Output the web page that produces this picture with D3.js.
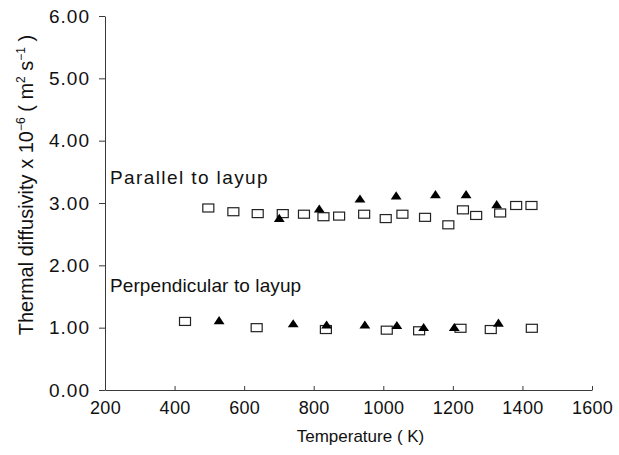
<!DOCTYPE html>
<html>
<head>
<meta charset="utf-8">
<script src="https://cdn.jsdelivr.net/npm/d3@7"></script>
<style>
  html, body { margin: 0; padding: 0; background: #fff; }
  svg { display: block; font-family: "Liberation Sans", Arial, Helvetica, sans-serif; }
</style>
</head>
<body>
<svg id="chart" width="619" height="455"></svg>
<script>
// Thermal diffusivity (x10^-6 m^2/s) versus temperature (K), two orientations,
// each measured as two runs (open squares and filled triangles).
const parallelSquaresT = [497, 569, 639, 711, 772, 828, 873, 945, 1007, 1055, 1120, 1187, 1229, 1267, 1336, 1382, 1426];
const parallelSquaresV = [2.92, 2.86, 2.83, 2.83, 2.82, 2.78, 2.79, 2.82, 2.75, 2.82, 2.77, 2.65, 2.89, 2.80, 2.84, 2.96, 2.96];

const parallelTrianglesT = [701, 816, 933, 1037, 1150, 1238, 1326];
const parallelTrianglesV = [2.74, 2.89, 3.05, 3.10, 3.12, 3.12, 2.96];

const perpSquaresT = [430, 636, 835, 1010, 1103, 1222, 1309, 1427];
const perpSquaresV = [1.10, 1.00, 0.97, 0.96, 0.95, 0.99, 0.97, 0.99];

const perpTrianglesT = [528, 741, 837, 947, 1039, 1116, 1204, 1331];
const perpTrianglesV = [1.10, 1.05, 1.03, 1.03, 1.02, 0.99, 0.99, 1.06];

const xTicks = [200, 400, 600, 800, 1000, 1200, 1400, 1600];
const yTicks = [0, 1, 2, 3, 4, 5, 6];

const seriesLabels = [
  { text: "Parallel to layup", value: 3.30 },
  { text: "Perpendicular to layup", value: 1.58 }
];

const svg = d3.select("#chart");

const x = d3.scaleLinear().domain([200, 1600]).range([105, 592]);
const y = d3.scaleLinear().domain([0, 6]).range([390, 16]);

const axisColor = "#3a3a3a";

// X axis: ticks pointing up into the plot
const gx = svg.append("g")
  .attr("transform", `translate(0,${y(0)})`)
  .call(d3.axisBottom(x).tickValues(xTicks).tickSizeInner(-4).tickSizeOuter(0).tickPadding(20).tickFormat(d3.format("d")));
gx.select(".domain").attr("stroke", axisColor).attr("stroke-width", 1);
gx.selectAll(".tick line").attr("stroke", axisColor);
gx.selectAll(".tick text")
  .attr("fill", "#111")
  .attr("font-size", 18)
  .attr("letter-spacing", 0.3)
  .attr("dy", "0.2em");

// Y axis: ticks pointing out to the left
const gy = svg.append("g")
  .attr("transform", `translate(${x(200)},0)`)
  .call(d3.axisLeft(y).tickValues(yTicks).tickSizeInner(6).tickSizeOuter(0).tickPadding(9).tickFormat(d3.format(".2f")));
gy.select(".domain").attr("stroke", axisColor).attr("stroke-width", 1);
gy.selectAll(".tick line").attr("stroke", axisColor);
gy.selectAll(".tick text")
  .attr("fill", "#111")
  .attr("font-size", 19)
  .attr("letter-spacing", 1);

// Axis titles
svg.append("text")
  .attr("x", (x(200) + x(1600)) / 2 + 12)
  .attr("y", 442)
  .attr("text-anchor", "middle")
  .attr("font-size", 17)
  .attr("fill", "#111")
  .text("Temperature ( K)");

const yTitle = svg.append("text")
  .attr("transform", `translate(33,185) rotate(-90)`)
  .attr("text-anchor", "middle")
  .attr("font-size", 20)
  .attr("fill", "#111");
yTitle.append("tspan").text("Thermal diffusivity x 10");
yTitle.append("tspan").attr("dy", -8).attr("font-size", 12).text("−6");
yTitle.append("tspan").attr("dy", 8).text(" ( m");
yTitle.append("tspan").attr("dy", -8).attr("font-size", 12).text("2");
yTitle.append("tspan").attr("dy", 8).text(" s");
yTitle.append("tspan").attr("dy", -8).attr("font-size", 12).text("−1");
yTitle.append("tspan").attr("dy", 8).text(" )");

// Series labels
svg.selectAll("text.series-label")
  .data(seriesLabels)
  .join("text")
  .attr("class", "series-label")
  .attr("x", x(200) + 5)
  .attr("y", d => y(d.value))
  .attr("font-size", 19)
  .attr("letter-spacing", (d, i) => i === 0 ? 1.4 : 0.1)
  .attr("fill", "#111")
  .text(d => d.text);

// Marker helpers
const sqW = 11, sqH = 8;
function drawSquares(Ts, Vs) {
  svg.append("g")
    .selectAll("rect")
    .data(d3.zip(Ts, Vs))
    .join("rect")
    .attr("x", d => x(d[0]) - sqW / 2)
    .attr("y", d => y(d[1]) - sqH / 2)
    .attr("width", sqW)
    .attr("height", sqH)
    .attr("fill", "none")
    .attr("stroke", "#222")
    .attr("stroke-width", 1.2);
}
const tri = d3.symbol().type(d3.symbolTriangle).size(42);
function drawTriangles(Ts, Vs) {
  svg.append("g")
    .selectAll("path")
    .data(d3.zip(Ts, Vs))
    .join("path")
    .attr("transform", d => `translate(${x(d[0])},${y(d[1])}) scale(1.1,0.95)`)
    .attr("d", tri)
    .attr("fill", "#000");
}

drawSquares(parallelSquaresT, parallelSquaresV);
drawTriangles(parallelTrianglesT, parallelTrianglesV);
drawSquares(perpSquaresT, perpSquaresV);
drawTriangles(perpTrianglesT, perpTrianglesV);
</script>
</body>
</html>
